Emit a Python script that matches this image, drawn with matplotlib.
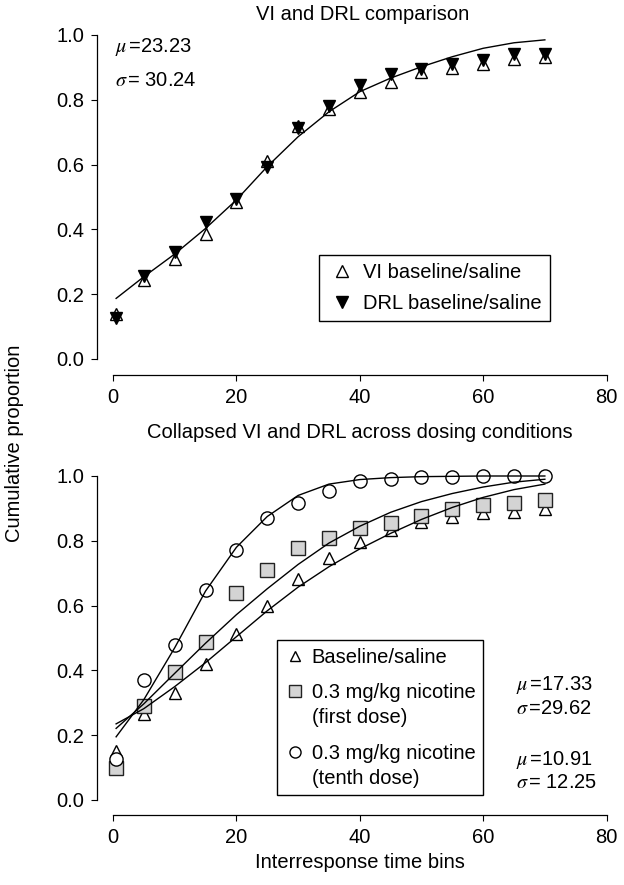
import matplotlib
matplotlib.use("Agg")
import matplotlib.pyplot as plt
from matplotlib.lines import Line2D

plt.rcParams['font.family'] = ['Liberation Sans', 'DejaVu Sans']
plt.rcParams['mathtext.fontset'] = 'stix'

# ---------------- data ----------------
bins = [0.5, 5, 10, 15, 20, 25, 30, 35, 40, 45, 50, 55, 60, 65, 70]
x_ticks = [0, 20, 40, 60, 80]
y_ticks = [0.0, 0.2, 0.4, 0.6, 0.8, 1.0]

# top panel
vi_baseline = [0.14, 0.245, 0.308, 0.386, 0.485, 0.612, 0.72, 0.772, 0.825, 0.856, 0.887, 0.897, 0.912, 0.927, 0.931]
drl_baseline = [0.125, 0.255, 0.331, 0.422, 0.494, 0.592, 0.712, 0.78, 0.845, 0.88, 0.896, 0.911, 0.922, 0.94, 0.94]
fit_top = [0.187, 0.254, 0.324, 0.403, 0.491, 0.594, 0.686, 0.763, 0.825, 0.867, 0.902, 0.933, 0.959, 0.976, 0.985]

# bottom panel
baseline = [0.15, 0.265, 0.331, 0.420, 0.512, 0.599, 0.681, 0.746, 0.795, 0.833, 0.859, 0.874, 0.885, 0.890, 0.897]
first_dose = [0.10, 0.290, 0.396, 0.489, 0.638, 0.710, 0.777, 0.808, 0.839, 0.856, 0.878, 0.897, 0.912, 0.916, 0.926]
tenth_dose = [0.125, 0.370, 0.478, 0.648, 0.772, 0.871, 0.918, 0.954, 0.986, 0.991, 0.996, 0.998, 1.0, 1.0, 1.0]
fit_baseline = [0.235, 0.282, 0.35, 0.424, 0.504, 0.584, 0.657, 0.72, 0.775, 0.823, 0.866, 0.903, 0.934, 0.958, 0.975]
fit_first = [0.221, 0.297, 0.391, 0.484, 0.572, 0.652, 0.727, 0.793, 0.845, 0.888, 0.921, 0.946, 0.966, 0.981, 0.99]
fit_tenth = [0.195, 0.31, 0.47, 0.645, 0.78, 0.875, 0.94, 0.975, 0.989, 0.995, 0.998, 0.999, 1.0, 1.0, 1.0]

top_stats = [r"$\mu\,$=23.23", r"$\sigma\,$= 30.24"]
first_stats = [r"$\mu\,$=17.33", r"$\sigma\,$=29.62"]
tenth_stats = [r"$\mu\,$=10.91", r"$\sigma\,$= 12.25"]

# ---------------- layout ----------------
W, H = 624, 885
def fx(px): return px / W
def fy(py): return 1 - py / H

FS = 14.5
fig = plt.figure(figsize=(W / 100, H / 100), dpi=100)
ax1 = fig.add_axes([fx(97), fy(375), (608.4 - 97) / W, (375 - 35) / H])
ax2 = fig.add_axes([fx(97), fy(815), (608.4 - 97) / W, (815 - 476) / H])

def style(ax, ybot):
    ax.set_xlim(-2.6, 80.3)
    ax.set_ylim(ybot, 1.0)
    for s in ['top', 'right']:
        ax.spines[s].set_visible(False)
    for s in ['left', 'bottom']:
        ax.spines[s].set_linewidth(0.9)
    ax.spines['left'].set_bounds(0, 1)
    ax.spines['bottom'].set_bounds(0, 80)
    ax.set_xticks(x_ticks)
    ax.set_yticks(y_ticks)
    ax.set_yticklabels([f"{v:.1f}" for v in y_ticks])
    ax.tick_params(length=4.3, width=0.8, labelsize=FS, pad=5, direction='out')

style(ax1, -0.0494)
style(ax2, -0.0463)

# ---- top panel ----
ax1.plot(bins, vi_baseline, ls='none', marker='^', ms=8.5, mfc='white', mec='black', mew=1.0, clip_on=False, zorder=3)
ax1.plot(bins, drl_baseline, ls='none', marker='v', ms=8.5, mfc='black', mec='black', mew=1.0, clip_on=False, zorder=4)
ax1.plot(bins, fit_top, color='black', lw=1.0, zorder=5, clip_on=False)

h_vi = Line2D([], [], ls='none', marker='^', ms=8, mfc='white', mec='black', mew=1.0)
h_drl = Line2D([], [], ls='none', marker='v', ms=8, mfc='black', mec='black', mew=1.0)
leg1 = ax1.legend([h_vi, h_drl], ["VI baseline/saline", "DRL baseline/saline"],
                  loc='upper left', bbox_to_anchor=(fx(319), fy(255)), bbox_transform=fig.transFigure,
                  borderaxespad=0, fancybox=False, edgecolor='black', framealpha=1,
                  borderpad=0.4, labelspacing=0.6, handlelength=1.5, handletextpad=0.3,
                  fontsize=FS, numpoints=1)
leg1.get_frame().set_linewidth(1.0)

fig.text(fx(115), fy(47), top_stats[0], fontsize=FS, va='center', ha='left')
fig.text(fx(115), fy(80), top_stats[1], fontsize=FS, va='center', ha='left')

# ---- bottom panel ----
ax2.plot(bins, baseline, ls='none', marker='^', ms=8.5, mfc='white', mec='black', mew=1.0, clip_on=False, zorder=3)
ax2.plot(bins, first_dose, ls='none', marker='s', ms=9.5, mfc='#d4d4d4', mec='#222222', mew=1.0, clip_on=False, zorder=3.5)
ax2.plot(bins, tenth_dose, ls='none', marker='o', ms=9.5, mfc='white', mec='black', mew=1.0, clip_on=False, zorder=4)
ax2.plot(bins, fit_baseline, color='black', lw=1.0, zorder=5, clip_on=False)
ax2.plot(bins, fit_first, color='black', lw=1.0, zorder=5, clip_on=False)
ax2.plot(bins, fit_tenth, color='black', lw=1.0, zorder=5, clip_on=False)

h_b = Line2D([], [], ls='none', marker='^', ms=7.5, mfc='white', mec='black', mew=1.0)
h_f = Line2D([], [], ls='none', marker='s', ms=8, mfc='#d4d4d4', mec='#222222', mew=1.0)
h_t = Line2D([], [], ls='none', marker='o', ms=8, mfc='white', mec='black', mew=1.0)
leg2 = ax2.legend([h_b, h_f, h_t],
                  ["Baseline/saline", "0.3 mg/kg nicotine\n(first dose)", "0.3 mg/kg nicotine\n(tenth dose)"],
                  loc='upper left', bbox_to_anchor=(fx(277), fy(640)), bbox_transform=fig.transFigure,
                  borderaxespad=0, fancybox=False, edgecolor='black', framealpha=1,
                  borderpad=0.38, labelspacing=0.8, handlelength=1.0, handletextpad=0.34,
                  handleheight=1.1, fontsize=FS, numpoints=1)
leg2.get_frame().set_linewidth(1.0)
for t in leg2.get_texts():
    t.set_linespacing(1.42)
try:
    for col in leg2._legend_handle_box.get_children():
        for item in col.get_children():
            item.align = 'top'
except Exception:
    pass

fig.text(fx(516), fy(685), first_stats[0], fontsize=FS, va='center', ha='left')
fig.text(fx(516), fy(709), first_stats[1], fontsize=FS, va='center', ha='left')
fig.text(fx(516), fy(760), tenth_stats[0], fontsize=FS, va='center', ha='left')
fig.text(fx(516), fy(783), tenth_stats[1], fontsize=FS, va='center', ha='left')

# ---- titles & labels ----
fig.text(fx(363), fy(15), "VI and DRL comparison", fontsize=FS, ha='center', va='center')
fig.text(fx(360), fy(433), "Collapsed VI and DRL across dosing conditions", fontsize=FS, ha='center', va='center')
fig.text(fx(360), fy(862), "Interresponse time bins", fontsize=FS, ha='center', va='center')
fig.text(fx(15), fy(443), "Cumulative proportion", fontsize=FS, ha='center', va='center', rotation=90)

fig.savefig("out.png", dpi=100)
